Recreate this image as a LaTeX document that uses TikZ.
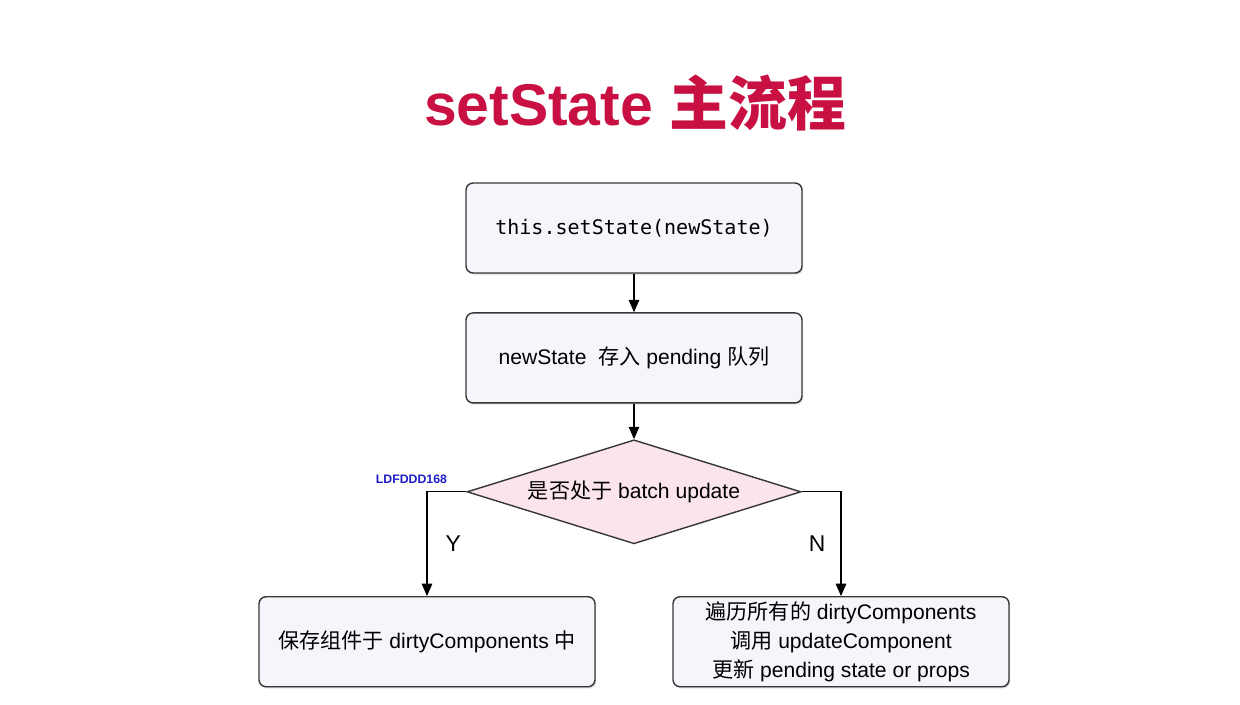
\documentclass[tikz,border=0pt]{standalone}
\usepackage{fontspec}
\setmainfont{Liberation Sans}
\newfontfamily\cjk{Noto Sans CJK SC}
\newfontfamily\codefont{DejaVu Sans Mono}
\usetikzlibrary{positioning,arrows.meta,shapes.geometric,shadows}
\definecolor{titlered}{RGB}{200,16,66}
\definecolor{boxfill}{RGB}{247,245,252}
\definecolor{decfill}{RGB}{252,228,236}
\definecolor{edgegray}{RGB}{55,55,55}
\definecolor{markblue}{RGB}{30,30,200}
\tikzset{
  stepbox/.style={rectangle,draw=edgegray,fill=boxfill,line width=0.8pt,rounded corners=4pt,
    minimum width=6.72cm,minimum height=1.8cm,align=center,inner sep=2pt,
    font=\fontsize{12}{16.5}\selectfont,
    drop shadow={shadow xshift=0.7pt,shadow yshift=-0.9pt,opacity=0.3}},
  decide/.style={diamond,aspect=3.2,draw=edgegray,fill=decfill,line width=0.8pt,inner sep=0pt,
    minimum width=6.68cm,minimum height=2.08cm,align=center,
    font=\fontsize{12}{16.5}\selectfont},
  flow/.style={-{Triangle[length=7pt,width=6pt]},line width=0.6pt},
  yn/.style={font=\fontsize{13}{15}\selectfont,inner sep=0pt},
}

\begin{document}
\begin{tikzpicture}
  \useasboundingbox[fill=white] (0,0) rectangle (24.8,-14.08);
  \node[font=\fontsize{33.5}{40}\selectfont\bfseries,text=titlered] (title) at (12.7,-2.06)
    {setState {\cjk 主流程}};
  \node[stepbox] (call) at (12.68,-4.56) {\codefont\fontsize{11.4}{14}\selectfont this.setState(newState)};
  \node[stepbox,below=0.77cm of call] (queue) {newState\ \ {\cjk 存入} pending {\cjk 队列}};
  \node[decide,below=0.71cm of queue] (batch) {{\cjk 是否处于} batch update};
  \node[stepbox,below=1.03cm of batch.south,xshift=-4.14cm] (save) {{\cjk 保存组件于} dirtyComponents {\cjk 中}};
  \node[stepbox,below=1.03cm of batch.south,xshift=4.14cm] (walk)
    {{\cjk 遍历所有的} dirtyComponents\\{\cjk 调用} updateComponent\\{\cjk 更新} pending state or props};
  \node[font=\fontsize{7}{8}\selectfont\bfseries,text=markblue,inner sep=0pt,
    above left=0.16cm and 0.38cm of batch.west] (mark) {LDFDDD168};

  \draw[flow] (call) -- (queue);
  \draw[flow] (queue) -- (batch);
  \draw[flow] (batch.west) -| (save.north) node[yn,pos=0.75,right=0.36cm] {Y};
  \draw[flow] (batch.east) -| (walk.north) node[yn,pos=0.75,left=0.3cm] {N};
\end{tikzpicture}
\end{document}
